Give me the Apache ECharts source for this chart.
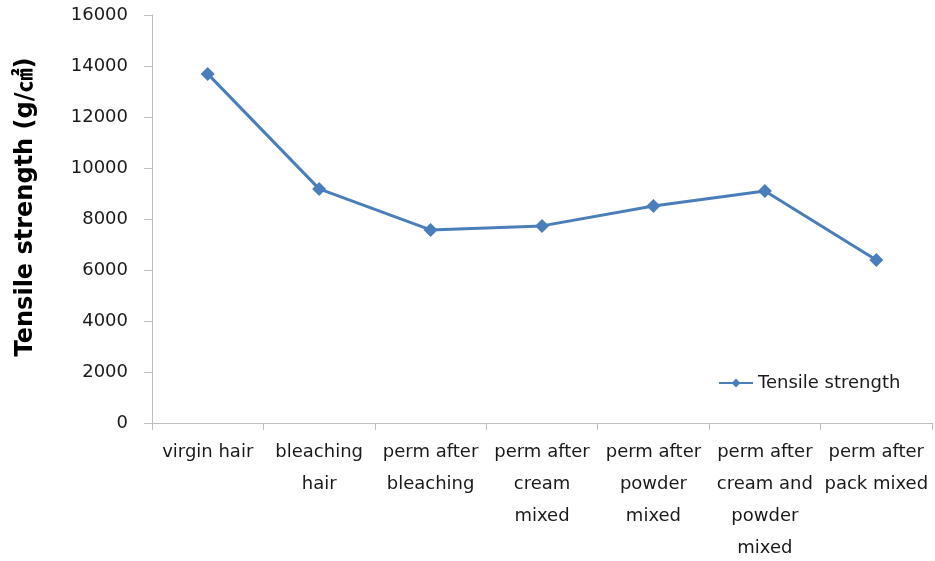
<!DOCTYPE html>
<html>
<head>
<meta charset="utf-8">
<script src="https://cdn.jsdelivr.net/npm/echarts@6/dist/echarts.min.js"></script>
<style>html,body{margin:0;padding:0;background:#fff}#c{width:935px;height:561px}</style>
</head>
<body>
<div id="c"></div>
<script>
var categories = ["virgin hair", "bleaching\nhair", "perm after\nbleaching", "perm after\ncream\nmixed", "perm after\npowder\nmixed", "perm after\ncream and\npowder\nmixed", "perm after\npack mixed"];
var tensileStrength = [13690, 9180, 7570, 7730, 8510, 9100, 6390];
var seriesName = "Tensile strength";
var yAxisName = "Tensile strength (g/㎠)";
var yMin = 0, yMax = 16000, yStep = 2000;

var font = "'DejaVu Sans', 'Noto Sans CJK KR', sans-serif";
var chart = echarts.init(document.getElementById('c'), null, {renderer: 'canvas'});
chart.setOption({
  animation: false,
  backgroundColor: '#fff',
  grid: {left: 152, right: 3, top: 15, bottom: 138, containLabel: false, outerBoundsMode: 'none'},
  legend: {
    data: [seriesName],
    left: 713, top: 369,
    itemWidth: 34, itemHeight: 11, itemGap: 5,
    textStyle: {fontFamily: font, fontSize: 18, color: '#1a1a1a'}
  },
  xAxis: {
    type: 'category',
    data: categories,
    boundaryGap: true,
    axisLine: {lineStyle: {color: '#bdbdbd', width: 1}},
    axisTick: {show: true, alignWithLabel: false, length: 7, lineStyle: {color: '#bdbdbd'}},
    axisLabel: {interval: 0, fontFamily: font, fontSize: 18, color: '#1a1a1a', lineHeight: 32, margin: 13}
  },
  yAxis: {
    type: 'value',
    min: yMin, max: yMax, interval: yStep,
    name: yAxisName,
    nameLocation: 'middle',
    nameGap: 114,
    nameRotate: 90,
    nameTextStyle: {fontFamily: font, fontSize: 24, fontWeight: 'bold', color: '#000', padding: [0, 0, 0, 24]},
    axisLine: {show: true, lineStyle: {color: '#bdbdbd', width: 1}},
    axisTick: {show: true, length: 8, inside: false, lineStyle: {color: '#bdbdbd'}},
    splitLine: {show: false},
    axisLabel: {fontFamily: font, fontSize: 18, color: '#1a1a1a', margin: 24, formatter: function (v) { return String(v); }}
  },
  series: [{
    name: seriesName,
    type: 'line',
    data: tensileStrength,
    symbol: 'diamond',
    symbolSize: 14,
    lineStyle: {color: '#4a7ebb', width: 3},
    itemStyle: {color: '#4a7ebb'}
  }]
});
</script>
</body>
</html>
